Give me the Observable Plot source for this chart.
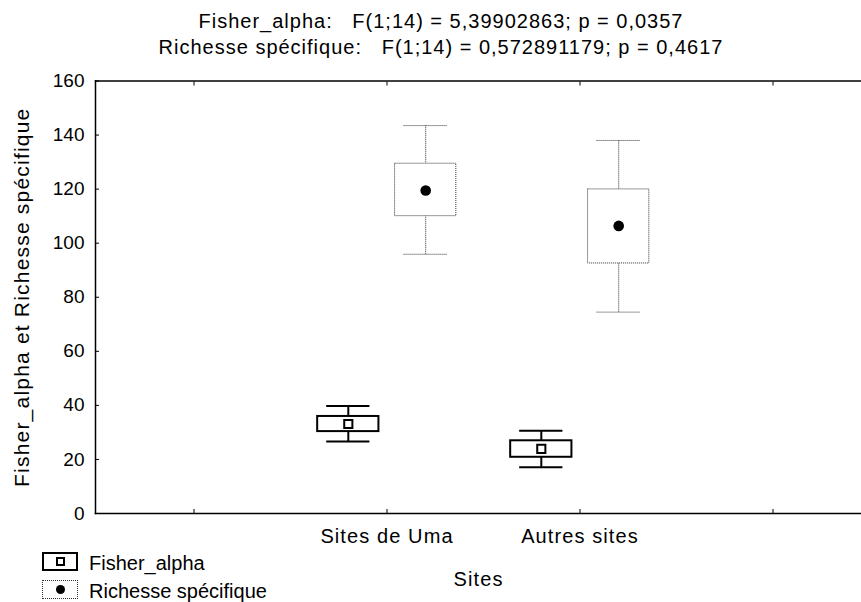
<!DOCTYPE html>
<html>
<head>
<meta charset="utf-8">
<script src="https://cdn.jsdelivr.net/npm/d3@7"></script>
<script src="https://cdn.jsdelivr.net/npm/@observablehq/plot@0.6"></script>
<style>
  body { margin: 0; background: #fff; }
  #wrap { position: relative; width: 861px; height: 602px; overflow: hidden; background: #fff;
          font-family: "Liberation Sans", Arial, sans-serif; color: #000; }
  #title { position: absolute; top: 8px; left: 0; width: 882px; text-align: center;
           font-size: 20px; line-height: 26px; white-space: pre; letter-spacing: 1px; }
  #chart { position: absolute; top: 62px; left: 0; }
  .sw { position: absolute; left: 42px; width: 36px; height: 19px; box-sizing: border-box; background: #fff; }
  .lt { position: absolute; left: 89px; font-size: 20px; line-height: 20px; letter-spacing: 0px; white-space: pre; }
</style>
</head>
<body>
<div id="wrap">
  <div id="title"></div>
  <div id="chart"></div>
  <div id="legend"></div>
</div>
<script>
// ---- data ----
const titleLines = [
  "Fisher_alpha:   F(1;14) = 5,39902863; p = 0,0357",
  "Richesse spécifique:   F(1;14) = 0,572891179; p = 0,4617"
];
const sites = ["Sites de Uma", "Autres sites"];
const xCategories = ["", "Sites de Uma", "Autres sites", " "];
const seriesNames = ["Fisher_alpha", "Richesse spécifique"];
const yTicks = [0, 20, 40, 60, 80, 100, 120, 140, 160];

const fisherMean        = [33.1, 23.9];
const fisherBoxLow      = [30.3, 20.8];
const fisherBoxHigh     = [35.9, 26.9];
const fisherWhiskerLow  = [26.6, 17.1];
const fisherWhiskerHigh = [39.8, 30.6];

const richMean        = [119.5, 106.4];
const richBoxLow      = [110.0, 92.5];
const richBoxHigh     = [129.4, 119.9];
const richWhiskerLow  = [95.9, 74.5];
const richWhiskerHigh = [143.5, 138.0];

// ---- tables ----
const fisher = sites.map((s, i) => ({site: s, mean: fisherMean[i], lo: fisherBoxLow[i], hi: fisherBoxHigh[i], wlo: fisherWhiskerLow[i], whi: fisherWhiskerHigh[i]}));
const rich = sites.map((s, i) => ({site: s, mean: richMean[i], lo: richBoxLow[i], hi: richBoxHigh[i], wlo: richWhiskerLow[i], whi: richWhiskerHigh[i]}));

document.getElementById("title").textContent = titleLines.join("\n");

const band = (870 - 95) / xCategories.length;
const off = 38.7;
const boxInset = (band - 62) / 2;
const capInset = (band - 44) / 2;
const dotted = {stroke: "#333", strokeWidth: 1, strokeDasharray: "1,1"};
const solid = {stroke: "#000", strokeWidth: 2};

const chart = Plot.plot({
  width: 861,
  height: 540,
  marginLeft: 95,
  marginRight: 0,
  marginTop: 18.5,
  marginBottom: 89,
  style: "font-family: 'Liberation Sans', Arial, sans-serif; font-size: 20px; background: white; overflow: hidden; color: black;",
  x: {type: "band", domain: xCategories, range: [95, 870], padding: 0},
  y: {domain: [0, 160]},
  marks: [
    // frame lines
    Plot.frame({anchor: "top", stroke: "#000", strokeWidth: 1.5}),
    Plot.frame({anchor: "bottom", stroke: "#000", strokeWidth: 1.5}),
    Plot.frame({anchor: "left", stroke: "#000", strokeWidth: 1.5}),
    // inward ticks
    Plot.axisY({ticks: yTicks, tickSize: 4, dx: 4, tickFormat: () => "", label: null}),
    Plot.axisX({anchor: "bottom", tickSize: 4, dy: -4, tickFormat: () => "", label: null}),
    Plot.axisX({anchor: "top", tickSize: 4, dy: 4, tickFormat: () => "", label: null}),
    // tick labels + axis labels
    Plot.axisY({ticks: yTicks, tickSize: 0, tickPadding: 11, fontSize: 19, label: "Fisher_alpha et Richesse spécifique",
                labelAnchor: "center", labelOffset: 81, labelArrow: "none"}),
    Plot.axisX({anchor: "bottom", tickSize: 0, tickPadding: 15, fontSize: 20, label: null}),
    Plot.axisX({anchor: "bottom", ticks: [], tickSize: 0, fontSize: 20, label: "Sites", labelAnchor: "center", labelOffset: 72, labelArrow: "none", dx: 4}),

    // Richesse spécifique (dotted grey, filled dot)
    Plot.ruleX(rich, {x: "site", y1: "wlo", y2: "whi", dx: off, ...dotted}),
    Plot.tickY(rich, {x: "site", y: "wlo", dx: off, insetLeft: capInset, insetRight: capInset, ...dotted}),
    Plot.tickY(rich, {x: "site", y: "whi", dx: off, insetLeft: capInset, insetRight: capInset, ...dotted}),
    Plot.barY(rich, {x: "site", y1: "lo", y2: "hi", dx: off, insetLeft: boxInset, insetRight: boxInset, fill: "white", ...dotted}),
    Plot.dot(rich, {x: "site", y: "mean", dx: off, r: 5.3, fill: "black", stroke: "none"}),

    // Fisher_alpha (solid black, hollow square)
    Plot.ruleX(fisher, {x: "site", y1: "wlo", y2: "whi", dx: -off, ...solid}),
    Plot.tickY(fisher, {x: "site", y: "wlo", dx: -off, insetLeft: capInset, insetRight: capInset, ...solid}),
    Plot.tickY(fisher, {x: "site", y: "whi", dx: -off, insetLeft: capInset, insetRight: capInset, ...solid}),
    Plot.barY(fisher, {x: "site", y1: "lo", y2: "hi", dx: -off, insetLeft: boxInset, insetRight: boxInset, fill: "white", ...solid}),
    Plot.dot(fisher, {x: "site", y: "mean", dx: -off, symbol: "square", r: 4.6, fill: "white", ...solid})
  ]
});
// letter spacing of the category labels and axis titles, as in the reference
chart.querySelectorAll('g[aria-label="x-axis tick label"], g[aria-label="x-axis label"]').forEach(g => g.style.letterSpacing = "1.1px");
chart.querySelectorAll('g[aria-label="y-axis label"]').forEach(g => { g.style.letterSpacing = "1.2px"; g.style.fontSize = "21px"; });
document.getElementById("chart").appendChild(chart);

// ---- legend ----
const legend = document.getElementById("legend");
const legendTops = [551, 579];
seriesNames.forEach((name, i) => {
  const sw = document.createElement("div");
  sw.className = "sw";
  sw.style.top = (legendTops[i] + 1) + "px";
  sw.style.border = i === 0 ? "2px solid #000" : "1px dotted #333";
  const mk = document.createElement("div");
  mk.style.position = "absolute";
  if (i === 0) {
    mk.style.width = "9px"; mk.style.height = "9px"; mk.style.border = "2px solid #000";
    mk.style.boxSizing = "border-box"; mk.style.left = "11.5px"; mk.style.top = "3px";
  } else {
    mk.style.width = "9px"; mk.style.height = "9px"; mk.style.borderRadius = "50%"; mk.style.background = "#000";
    mk.style.left = "13px"; mk.style.top = "4px";
  }
  sw.appendChild(mk);
  legend.appendChild(sw);
  const t = document.createElement("div");
  t.className = "lt";
  t.style.top = (legendTops[i] + 2) + "px";
  t.textContent = name;
  legend.appendChild(t);
});
</script>
</body>
</html>
